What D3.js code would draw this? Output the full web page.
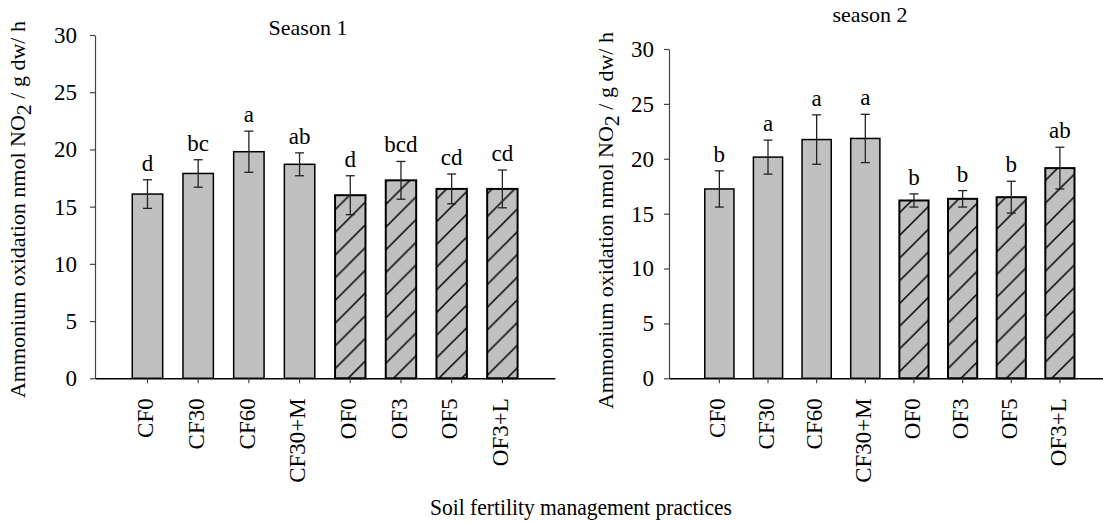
<!DOCTYPE html>
<html>
<head>
<meta charset="utf-8">
<script src="https://cdn.jsdelivr.net/npm/d3@7"></script>
<style>
  html, body { margin: 0; padding: 0; background: #fff; }
  svg { display: block; }
  svg text { font-family: "Liberation Serif", "Times New Roman", Times, serif; }
</style>
</head>
<body>
<svg id="chart" width="1103" height="522"></svg>
<script>
// Treatments (CF = conventional fertiliser, OF = organic fertiliser)
const categories = ["CF0", "CF30", "CF60", "CF30+M", "OF0", "OF3", "OF5", "OF3+L"];

// Season 1: mean ammonium oxidation, standard error, significance letters
const season1Mean = [16.1, 17.9, 19.8, 18.7, 16.0, 17.3, 16.55, 16.55];
const season1Err = [1.25, 1.2, 1.8, 1.0, 1.7, 1.65, 1.3, 1.65];
const season1Letters = ["d", "bc", "a", "ab", "d", "bcd", "cd", "cd"];

// Season 2
const season2Mean = [17.25, 20.15, 21.75, 21.85, 16.2, 16.35, 16.5, 19.15];
const season2Err = [1.65, 1.55, 2.25, 2.2, 0.6, 0.75, 1.45, 1.9];
const season2Letters = ["b", "a", "a", "a", "b", "b", "b", "ab"];

const yTicks = [0, 5, 10, 15, 20, 25, 30];
const yDomain = [0, 30];

const SERIF = "'Liberation Serif', 'Times New Roman', Times, serif";
const svg = d3.select("#chart");

// hatch pattern for the organic treatments
const defs = svg.append("defs");
const hs = 22.7;
const pat = defs.append("pattern")
  .attr("id", "hatch")
  .attr("patternUnits", "userSpaceOnUse")
  .attr("width", hs).attr("height", hs);
pat.append("rect").attr("width", hs).attr("height", hs).attr("fill", "#c0c0c0");
pat.append("path")
  .attr("d", `M0,${hs} L${hs},0 M-2,2 L2,-2 M${hs - 2},${hs + 2} L${hs + 2},${hs - 2}`)
  .attr("stroke", "#000").attr("stroke-width", 1.5);

const panels = [
  { mean: season1Mean, err: season1Err, letters: season1Letters,
    left: 95, bottom: 378.3, top: 35, step: 50.7,
    title: "Season 1", titleX: 308, titleY: 35,
    labelX: 25, labelTop: 21, tickPad: 13 },
  { mean: season2Mean, err: season2Err, letters: season2Letters,
    left: 669, bottom: 378.3, top: 49, step: 48.65,
    title: "season 2", titleX: 870, titleY: 21.5,
    labelX: 613, labelTop: 32, tickPad: 10 }
];

const padInner = 0.4, padOuter = 0.735;

panels.forEach(p => {
  const width = p.step * (categories.length - padInner + 2 * padOuter);
  const x = d3.scaleBand()
    .domain(categories)
    .range([p.left, p.left + width])
    .paddingInner(padInner)
    .paddingOuter(padOuter);
  const y = d3.scaleLinear().domain(yDomain).range([p.bottom, p.top]);

  const g = svg.append("g");

  const rows = categories.map((c, i) => ({
    cat: c, mean: p.mean[i], err: p.err[i], letter: p.letters[i],
    organic: c.startsWith("OF")
  }));

  // bars
  g.selectAll("rect.bar").data(rows).join("rect")
    .attr("class", "bar")
    .attr("x", d => x(d.cat))
    .attr("y", d => y(d.mean))
    .attr("width", x.bandwidth())
    .attr("height", d => y(0) - y(d.mean))
    .attr("fill", d => d.organic ? "url(#hatch)" : "#c0c0c0")
    .attr("stroke", "#000")
    .attr("stroke-width", d => d.organic ? 2 : 1.5);

  // error bars
  const cap = 4.5;
  const cx = d => x(d.cat) + x.bandwidth() / 2;
  const eb = g.selectAll("g.err").data(rows).join("g").attr("class", "err")
    .attr("stroke", "#222").attr("stroke-width", 1.3);
  eb.append("line")
    .attr("x1", cx).attr("x2", cx)
    .attr("y1", d => y(d.mean + d.err))
    .attr("y2", d => y(d.mean - d.err));
  eb.append("line")
    .attr("x1", d => cx(d) - cap).attr("x2", d => cx(d) + cap)
    .attr("y1", d => y(d.mean + d.err))
    .attr("y2", d => y(d.mean + d.err));
  eb.append("line")
    .attr("x1", d => cx(d) - cap).attr("x2", d => cx(d) + cap)
    .attr("y1", d => y(d.mean - d.err))
    .attr("y2", d => y(d.mean - d.err));

  // significance letters
  g.selectAll("text.letter").data(rows).join("text")
    .attr("class", "letter")
    .attr("x", cx)
    .attr("y", d => y(d.mean + d.err) - 9)
    .attr("text-anchor", "middle")
    .attr("font-family", SERIF)
    .attr("font-size", 23)
    .text(d => d.letter);

  // y axis
  const ya = g.append("g")
    .attr("transform", `translate(${p.left},0)`)
    .call(d3.axisLeft(y).tickValues(yTicks).tickSize(5).tickSizeOuter(0).tickPadding(p.tickPad))
    .attr("font-family", SERIF).attr("font-size", 23);
  ya.select(".domain").attr("stroke", "#444").attr("stroke-width", 1.2);
  ya.selectAll(".tick line").attr("stroke", "#444").attr("stroke-width", 1.2);
  ya.selectAll(".tick text")
    .attr("font-family", SERIF).attr("font-size", 23).attr("fill", "#000");

  // x axis
  const xa = g.append("g")
    .attr("transform", `translate(0,${p.bottom})`)
    .call(d3.axisBottom(x).tickSize(5).tickSizeOuter(0))
    .attr("font-family", SERIF).attr("font-size", 23);
  xa.select(".domain").attr("stroke", "#000").attr("stroke-width", 1.6);
  xa.selectAll(".tick line").attr("stroke", "#444").attr("stroke-width", 1.2);
  xa.selectAll(".tick text")
    .attr("font-family", SERIF).attr("font-size", 23).attr("fill", "#000")
    .attr("transform", "rotate(-90)")
    .attr("x", -20).attr("y", 0).attr("dy", "0.25em")
    .style("text-anchor", "end");

  // panel title
  g.append("text")
    .attr("x", p.titleX).attr("y", p.titleY)
    .attr("text-anchor", "middle")
    .attr("font-family", SERIF)
    .attr("font-size", 22)
    .text(p.title);

  // y-axis title
  const yl = g.append("text")
    .attr("transform", `translate(${p.labelX},${p.labelTop}) rotate(-90)`)
    .attr("text-anchor", "end")
    .attr("font-family", SERIF)
    .attr("font-size", 22);
  yl.append("tspan").text("Ammonium oxidation nmol NO");
  yl.append("tspan").attr("dy", 6).text("2");
  yl.append("tspan").attr("dy", -6).text(" / g dw/ h");
});

// shared x-axis title
svg.append("text")
  .attr("x", 581).attr("y", 515)
  .attr("text-anchor", "middle")
  .attr("font-family", SERIF)
  .attr("font-size", 23)
  .attr("textLength", 302)
  .attr("lengthAdjust", "spacingAndGlyphs")
  .text("Soil fertility management practices");
</script>
</body>
</html>
